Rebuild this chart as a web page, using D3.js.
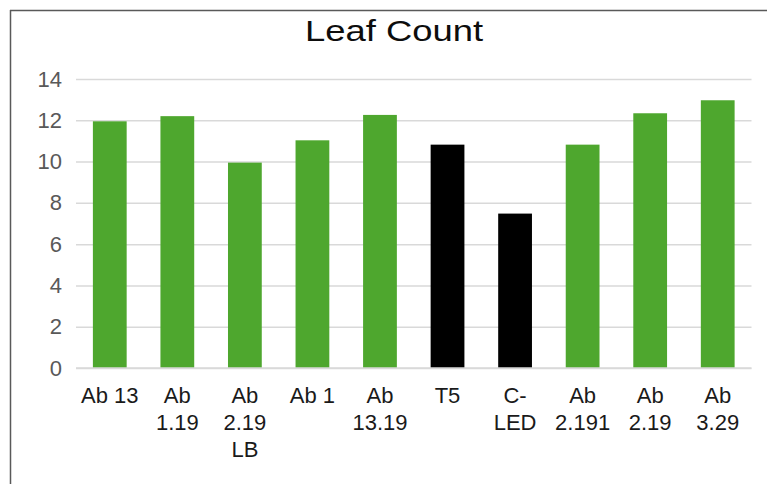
<!DOCTYPE html>
<html>
<head>
<meta charset="utf-8">
<script src="https://cdn.jsdelivr.net/npm/d3@7"></script>
<style>
  body { margin: 0; background: #fff; }
  svg { display: block; font-family: "Liberation Sans", Arial, sans-serif; }
</style>
</head>
<body>
<div id="chart"></div>
<script>
// chart data
var categories = ["Ab 13", "Ab 1.19", "Ab 2.19 LB", "Ab 1", "Ab 13.19", "T5", "C-LED", "Ab 2.191", "Ab 2.19", "Ab 3.29"];
var labelLines = [["Ab 13"], ["Ab", "1.19"], ["Ab", "2.19", "LB"], ["Ab 1"], ["Ab", "13.19"], ["T5"], ["C-", "LED"], ["Ab", "2.191"], ["Ab", "2.19"], ["Ab", "3.29"]];
var leafCount = [11.95, 12.2, 9.95, 11.03, 12.26, 10.82, 7.48, 10.82, 12.34, 12.97];
var controls = ["T5", "C-LED"];
var yTicks = [0, 2, 4, 6, 8, 10, 12, 14];

var svgWidth = 767, svgHeight = 484;
// plot area edges (note: "top" is a reserved window prop, so prefixed names)
var plotLeft = 76, plotRight = 751.5, plotTop = 79, plotBottom = 368;

var svg = d3.select("#chart")
  .append("svg")
    .attr("width", svgWidth)
    .attr("height", svgHeight);

// frame edges (top + left only visible)
svg.append("line")
  .attr("x1", 10).attr("x2", svgWidth)
  .attr("y1", 10.5).attr("y2", 10.5)
  .attr("stroke", "#595959").attr("stroke-width", 1.5);
svg.append("line")
  .attr("x1", 10.5).attr("x2", 10.5)
  .attr("y1", 10).attr("y2", svgHeight)
  .attr("stroke", "#595959").attr("stroke-width", 1.5);

var x = d3.scaleBand()
  .domain(categories)
  .range([plotLeft, plotRight])
  .paddingInner(0.5)
  .paddingOuter(0.25);

var y = d3.scaleLinear()
  .domain([0, 14])
  .range([plotBottom, plotTop]);

// gridlines + y labels
var yAxis = svg.append("g")
  .attr("transform", "translate(" + plotLeft + ",0)")
  .call(d3.axisLeft(y).tickValues(yTicks).tickSize(-(plotRight - plotLeft)).tickPadding(14));
yAxis.select(".domain").remove();
yAxis.selectAll(".tick line")
  .attr("stroke", "#d9d9d9")
  .attr("stroke-width", 1.5);
yAxis.selectAll(".tick text")
  .attr("fill", "#595959")
  .style("font-size", "22px")
  .style("font-family", "'Liberation Sans', Arial, sans-serif");

// bars
svg.selectAll("rect.bar")
  .data(categories)
  .enter()
  .append("rect")
  .classed("bar", true)
  .attr("x", function(d) { return x(d); })
  .attr("width", x.bandwidth())
  .attr("y", function(d, i) { return y(leafCount[i]); })
  .attr("height", function(d, i) { return y(0) - y(leafCount[i]); })
  .attr("fill", function(d) { return controls.indexOf(d) >= 0 ? "#000000" : "#4ea72e"; });

// x axis baseline
svg.append("line")
  .attr("x1", plotLeft).attr("x2", plotRight)
  .attr("y1", y(0)).attr("y2", y(0))
  .attr("stroke", "#d9d9d9").attr("stroke-width", 1.5);

// x labels, wrapped
var xLab = svg.append("g")
  .selectAll("text")
  .data(categories)
  .enter()
  .append("text")
  .attr("text-anchor", "middle")
  .attr("fill", "#1a1a1a")
  .style("font-size", "22px")
  .attr("x", function(d) { return x(d) + x.bandwidth() / 2; })
  .attr("y", 403);
xLab.selectAll("tspan")
  .data(function(d, i) { return labelLines[i]; })
  .enter()
  .append("tspan")
  .attr("x", function() { return d3.select(this.parentNode).attr("x"); })
  .attr("dy", function(d, i) { return i === 0 ? 0 : 27; })
  .text(function(d) { return d; });

// title
svg.append("text")
  .attr("x", 394)
  .attr("y", 41)
  .attr("text-anchor", "middle")
  .attr("fill", "#0d0d0d")
  .attr("textLength", 178)
  .attr("lengthAdjust", "spacingAndGlyphs")
  .style("font-size", "29px")
  .text("Leaf Count");
</script>
</body>
</html>
